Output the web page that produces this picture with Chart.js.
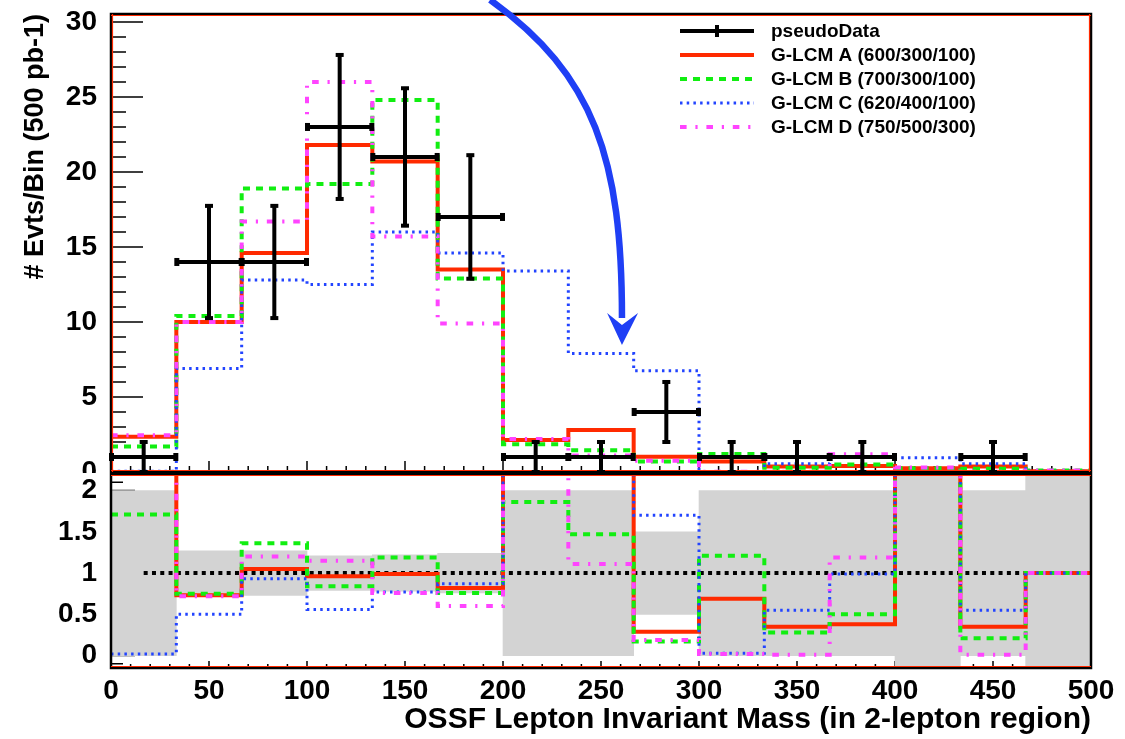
<!DOCTYPE html>
<html>
<head>
<meta charset="utf-8">
<title>OSSF Lepton Invariant Mass</title>
<script src="https://cdn.jsdelivr.net/npm/chart.js@4.4.1/dist/chart.umd.min.js"></script>
<style>
  html, body { margin: 0; padding: 0; background: #fff; }
  #page { position: relative; width: 1125px; height: 739px; overflow: hidden; background: #fff; }
  #mainPad { position: absolute; left: 0; top: 0; }
  #ratioPad { position: absolute; left: 0; top: 473px; }
</style>
</head>
<body>
<div id="page">
  <canvas id="mainPad" width="1125" height="473"></canvas>
  <canvas id="ratioPad" width="1125" height="266"></canvas>
</div>
<script>
// Bins (15 bins of 33.3 GeV)
const binEdges = [0, 33.33, 66.67, 100, 133.33, 166.67, 200, 233.33, 266.67, 300, 333.33, 366.67, 400, 433.33, 466.67, 500];
const binCenters = [16.67, 50, 83.33, 116.67, 150, 183.33, 216.67, 250, 283.33, 316.67, 350, 383.33, 416.67, 450, 483.33];

// Upper pad: events per bin
const pseudoData = [1, 14, 14, 23, 21, 17, 1, 1, 4, 1, 1, 1, 0, 1, 0];
const pseudoErr = [1, 3.74, 3.74, 4.8, 4.58, 4.12, 1, 1, 2, 1, 1, 1, 0, 1, 0];
const modelA = [2.35, 10.0, 14.6, 21.8, 20.7, 13.5, 2.13, 2.8, 1.02, 0.7, 0.36, 0.4, 0.25, 0.36, 0.05];
const modelB = [1.7, 10.4, 18.9, 19.2, 24.8, 12.9, 1.85, 1.45, 0.7, 1.2, 0.28, 0.5, 0.25, 0.21, 0.1];
const modelC = [0.05, 6.9, 12.8, 12.5, 16.0, 14.6, 13.4, 7.9, 6.75, 0.03, 0.55, 0.99, 0.95, 0.55, 0.05];
const modelD = [2.45, 10.0, 16.7, 26.0, 15.7, 9.9, 2.2, 1.1, 0.75, 0.02, 0.01, 1.19, 0.3, 0.01, 0.1];

// Lower pad: model / data ratios (9 = off scale, empty data bin)
const ratioA = [2.35, 0.73, 1.05, 0.96, 0.99, 0.82, 2.25, 2.8, 0.29, 0.69, 0.35, 0.38, 9, 0.35, 1];
const ratioB = [1.71, 0.75, 1.36, 0.84, 1.19, 0.76, 1.86, 1.47, 0.17, 1.21, 0.28, 0.50, 9, 0.21, 1];
const ratioC = [0.02, 0.50, 0.93, 0.56, 0.77, 0.87, 13.4, 7.9, 1.70, 0.03, 0.55, 0.99, 9, 0.55, 1];
const ratioD = [2.45, 0.72, 1.20, 1.15, 0.76, 0.60, 2.25, 1.11, 0.19, 0.02, 0.01, 1.19, 9, 0.01, 1];
const bandLow = [0, 0.73, 0.73, 0.79, 0.78, 0.76, 0, 0, 0.5, 0, 0, 0, -1, 0, -1];
const bandHigh = [2, 1.27, 1.27, 1.21, 1.22, 1.24, 2, 2, 1.5, 2, 2, 2, 3, 2, 3];

// Ticks and labels
const upperYTicks = [0, 5, 10, 15, 20, 25, 30];
const lowerYTicks = [0, 0.5, 1, 1.5, 2];
const xTicks = [0, 50, 100, 150, 200, 250, 300, 350, 400, 450, 500];
const legendLabels = ['pseudoData', 'G-LCM A (600/300/100)', 'G-LCM B (700/300/100)', 'G-LCM C (620/400/100)', 'G-LCM D (750/500/300)'];

// Annotation arrow, in data units of the upper pad
const arrowCurve = [[193.4, 31.47], [246.9, 26.47], [260.7, 20.8], [260.7, 10.27]];
const arrowHead = [[253.1, 10.6], [260.7, 8.47], [268.9, 10.6], [260.7, 9.8]];

const FONT = "'Liberation Sans', Arial, Helvetica, sans-serif";
Chart.defaults.font.family = FONT;
Chart.defaults.color = '#000';

const styleA = { color: '#ff2a00', width: 4, dash: [] };
const styleB = { color: '#11ee11', width: 4, dash: [7, 6] };
const styleC = { color: '#2244ff', width: 3, dash: [2.5, 4.2] };
const styleD = { color: '#ff44ff', width: 4, dash: [6.6, 8.8, 2.2, 8.8] };

function stepPoints(values) {
    const pts = values.map((v, i) => ({ x: binEdges[i], y: v }));
    pts.push({ x: binEdges[binEdges.length - 1], y: values[values.length - 1] });
    return pts;
}

function histDataset(label, values, st, order) {
    return {
        label: label,
        data: stepPoints(values),
        borderColor: st.color,
        borderWidth: st.width,
        borderDash: st.dash,
        stepped: 'before',
        pointRadius: 0,
        pointHoverRadius: 0,
        fill: false,
        order: order
    };
}

// ROOT style frame with inside ticks
function padFrame(spec) {
    const tickLoop = (min, max, step, cb) => {
        const k0 = Math.ceil(min / step - 1e-6), k1 = Math.floor(max / step + 1e-6);
        for (let k = k0; k <= k1; k++) cb(k * step, k);
    };
    return {
        id: 'padFrame',
        beforeDatasetsDraw(chart) {
            const { ctx, chartArea: a, scales: { x, y } } = chart;
            ctx.save();
            ctx.strokeStyle = '#000';
            ctx.lineWidth = 1.5;
            ctx.beginPath();
            tickLoop(x.min, x.max, spec.xMinor, (v, k) => {
                const px = x.getPixelForValue(v);
                const major = k % spec.xEvery === 0;
                ctx.moveTo(px, a.bottom);
                ctx.lineTo(px, a.bottom - (major ? spec.xMajorLen : spec.xMinorLen));
            });
            tickLoop(y.min, y.max, spec.yMinor, (v, k) => {
                const py = y.getPixelForValue(v);
                const major = k % spec.yEvery === 0;
                ctx.moveTo(a.left, py);
                ctx.lineTo(a.left + (major ? spec.yMajorLen : spec.yMinorLen), py);
            });
            ctx.stroke();
            ctx.restore();
        },
        afterDatasetsDraw(chart) {
            const { ctx, chartArea: a } = chart;
            ctx.save();
            ctx.strokeStyle = '#000';
            ctx.lineWidth = 2.5;
            ctx.strokeRect(a.left, a.top, a.right - a.left, a.bottom - a.top);
            ctx.strokeStyle = '#ff2a00';
            ctx.lineWidth = 1.2;
            ctx.beginPath();
            spec.red.forEach(side => {
                if (side === 'top') { ctx.moveTo(a.left, a.top + 1.5); ctx.lineTo(a.right, a.top + 1.5); }
                if (side === 'bottom') { ctx.moveTo(a.left, a.bottom - 1.5); ctx.lineTo(a.right, a.bottom - 1.5); }
                if (side === 'right') { ctx.moveTo(a.right - 1.5, a.top); ctx.lineTo(a.right - 1.5, a.bottom); }
                if (side === 'left') { ctx.moveTo(a.left + 1.5, a.top); ctx.lineTo(a.left + 1.5, a.bottom); }
            });
            ctx.stroke();
            ctx.restore();
        }
    };
}

// pseudoData points with error bars
const errorBars = {
    id: 'errorBars',
    afterDatasetsDraw(chart) {
        const { ctx, scales: { x, y } } = chart;
        ctx.save();
        ctx.strokeStyle = '#000';
        ctx.fillStyle = '#000';
        ctx.lineWidth = 4;
        pseudoData.forEach((v, i) => {
            if (v <= 0) return;
            const x0 = x.getPixelForValue(binEdges[i]);
            const x1 = x.getPixelForValue(binEdges[i + 1]);
            const xc = x.getPixelForValue(binCenters[i]);
            const yc = y.getPixelForValue(v);
            const yLo = y.getPixelForValue(v - pseudoErr[i]);
            const yHi = y.getPixelForValue(v + pseudoErr[i]);
            ctx.beginPath();
            ctx.moveTo(x0, yc); ctx.lineTo(x1, yc);
            ctx.moveTo(xc, yLo); ctx.lineTo(xc, yHi);
            ctx.stroke();
            ctx.fillRect(xc - 4, yHi - 2, 8, 4);
            ctx.fillRect(xc - 4, yLo - 2, 8, 4);
            ctx.fillRect(x0 - 2, yc - 4, 5, 8);
            ctx.fillRect(x1 - 3, yc - 4, 5, 8);
        });
        ctx.restore();
    }
};

const legendBox = {
    id: 'legendBox',
    afterDraw(chart) {
        const ctx = chart.ctx;
        const rows = [31, 55, 79, 103, 127];
        const sx0 = 680, sx1 = 754, tx = 771;
        ctx.save();
        // pseudoData symbol
        ctx.strokeStyle = '#000';
        ctx.lineWidth = 4;
        ctx.beginPath();
        ctx.moveTo(sx0, rows[0]); ctx.lineTo(sx1, rows[0]);
        ctx.moveTo(717, rows[0] - 6); ctx.lineTo(717, rows[0] + 6);
        ctx.stroke();
        chart.data.datasets.forEach((ds, k) => {
            ctx.strokeStyle = ds.borderColor;
            ctx.lineWidth = ds.borderWidth;
            ctx.setLineDash(ds.borderDash || []);
            ctx.beginPath();
            ctx.moveTo(sx0, rows[k + 1]); ctx.lineTo(sx1, rows[k + 1]);
            ctx.stroke();
        });
        ctx.setLineDash([]);
        ctx.fillStyle = '#000';
        ctx.font = 'bold 19px ' + FONT;
        ctx.textBaseline = 'middle';
        ctx.textAlign = 'left';
        legendLabels.forEach((t, k) => ctx.fillText(t, tx, rows[k] + 1));
        ctx.restore();
    }
};

const arrowNote = {
    id: 'arrowNote',
    afterDraw(chart) {
        const { ctx, scales: { x, y } } = chart;
        const P = p => [x.getPixelForValue(p[0]), y.getPixelForValue(p[1])];
        const c = arrowCurve.map(P);
        const h = arrowHead.map(P);
        ctx.save();
        ctx.strokeStyle = '#1f3ff5';
        ctx.fillStyle = '#1f3ff5';
        ctx.lineWidth = 6.5;
        ctx.beginPath();
        ctx.moveTo(c[0][0], c[0][1]);
        ctx.bezierCurveTo(c[1][0], c[1][1], c[2][0], c[2][1], c[3][0], c[3][1]);
        ctx.stroke();
        ctx.beginPath();
        ctx.moveTo(h[0][0], h[0][1]);
        ctx.lineTo(h[1][0], h[1][1]);
        ctx.lineTo(h[2][0], h[2][1]);
        ctx.lineTo(h[3][0], h[3][1]);
        ctx.closePath();
        ctx.fill();
        ctx.restore();
    }
};

const tickFont = { size: 28, weight: 'bold' };

// Upper pad
new Chart(document.getElementById('mainPad'), {
    type: 'line',
    data: {
        datasets: [
            histDataset('A', modelA, styleA, 4),
            histDataset('B', modelB, styleB, 3),
            histDataset('C', modelC, styleC, 2),
            histDataset('D', modelD, styleD, 1)
        ]
    },
    options: {
        responsive: false,
        animation: false,
        events: [],
        layout: { padding: { left: 0, right: 34, top: 14, bottom: 1 }, autoPadding: false },
        plugins: { legend: { display: false }, tooltip: { enabled: false } },
        scales: {
            x: { type: 'linear', min: 0, max: 500, display: false },
            y: {
                type: 'linear', min: 0, max: 30.53,
                grid: { display: false, drawTicks: false },
                border: { display: false },
                afterBuildTicks: s => { s.ticks = upperYTicks.map(v => ({ value: v })); },
                afterFit: s => { s.width = 111; s.paddingTop = 0; s.paddingBottom = 0; },
                ticks: { padding: 14, font: tickFont, color: '#000' },
                title: {
                    display: true, text: '# Evts/Bin (500 pb-1)', align: 'end', color: '#000',
                    font: { size: 27, weight: 'bold' }, padding: { top: 19, bottom: 0 }
                }
            }
        }
    },
    plugins: [
        padFrame({ xMinor: 10, xEvery: 5, xMajorLen: 11, xMinorLen: 6, yMinor: 1, yEvery: 5, yMajorLen: 32, yMinorLen: 15, red: ['top', 'bottom', 'right', 'left'] }),
        errorBars, legendBox, arrowNote
    ]
});

// Lower pad: ratio
new Chart(document.getElementById('ratioPad'), {
    type: 'line',
    data: {
        datasets: [
            {
                type: 'bar',
                label: 'data uncertainty',
                data: binCenters.map((c, i) => ({ x: c, y: [bandLow[i], bandHigh[i]] })),
                backgroundColor: '#d3d3d3',
                borderWidth: 0,
                barPercentage: 1,
                categoryPercentage: 1,
                order: 10
            },
            {
                label: 'unity',
                data: [{ x: binCenters[0], y: 1 }, { x: binEdges[binEdges.length - 1], y: 1 }],
                borderColor: '#000',
                borderWidth: 4,
                borderDash: [4, 4.3],
                pointRadius: 0,
                fill: false,
                order: 9
            },
            histDataset('A', ratioA, styleA, 4),
            histDataset('B', ratioB, styleB, 3),
            histDataset('C', ratioC, styleC, 2),
            histDataset('D', ratioD, styleD, 1)
        ]
    },
    options: {
        responsive: false,
        animation: false,
        events: [],
        layout: { padding: { left: 0, right: 34, top: 1, bottom: 0 }, autoPadding: false },
        plugins: { legend: { display: false }, tooltip: { enabled: false } },
        scales: {
            x: {
                type: 'linear', min: 0, max: 500, offset: false,
                grid: { display: false, drawTicks: false },
                border: { display: false },
                afterBuildTicks: s => { s.ticks = xTicks.map(v => ({ value: v })); },
                afterFit: s => { s.height = 71; s.paddingLeft = 0; s.paddingRight = 0; },
                ticks: { padding: 6, maxRotation: 0, autoSkip: false, font: tickFont, color: '#000' },
                title: {
                    display: true, text: 'OSSF Lepton Invariant Mass (in 2-lepton region)', align: 'end', color: '#000',
                    font: { size: 30, weight: 'bold' }, padding: { top: 0, bottom: 1 }
                }
            },
            y: {
                type: 'linear', min: -0.15, max: 2.2,
                grid: { display: false, drawTicks: false },
                border: { display: false },
                afterBuildTicks: s => { s.ticks = lowerYTicks.map(v => ({ value: v })); },
                afterFit: s => { s.width = 111; s.paddingTop = 0; s.paddingBottom = 0; },
                ticks: { padding: 14, font: tickFont, color: '#000', callback: v => String(v) }
            }
        }
    },
    plugins: [
        padFrame({ xMinor: 10, xEvery: 5, xMajorLen: 7, xMinorLen: 4, yMinor: 0.1, yEvery: 5, yMajorLen: 24, yMinorLen: 12, red: ['top', 'bottom'] })
    ]
});
</script>
</body>
</html>
